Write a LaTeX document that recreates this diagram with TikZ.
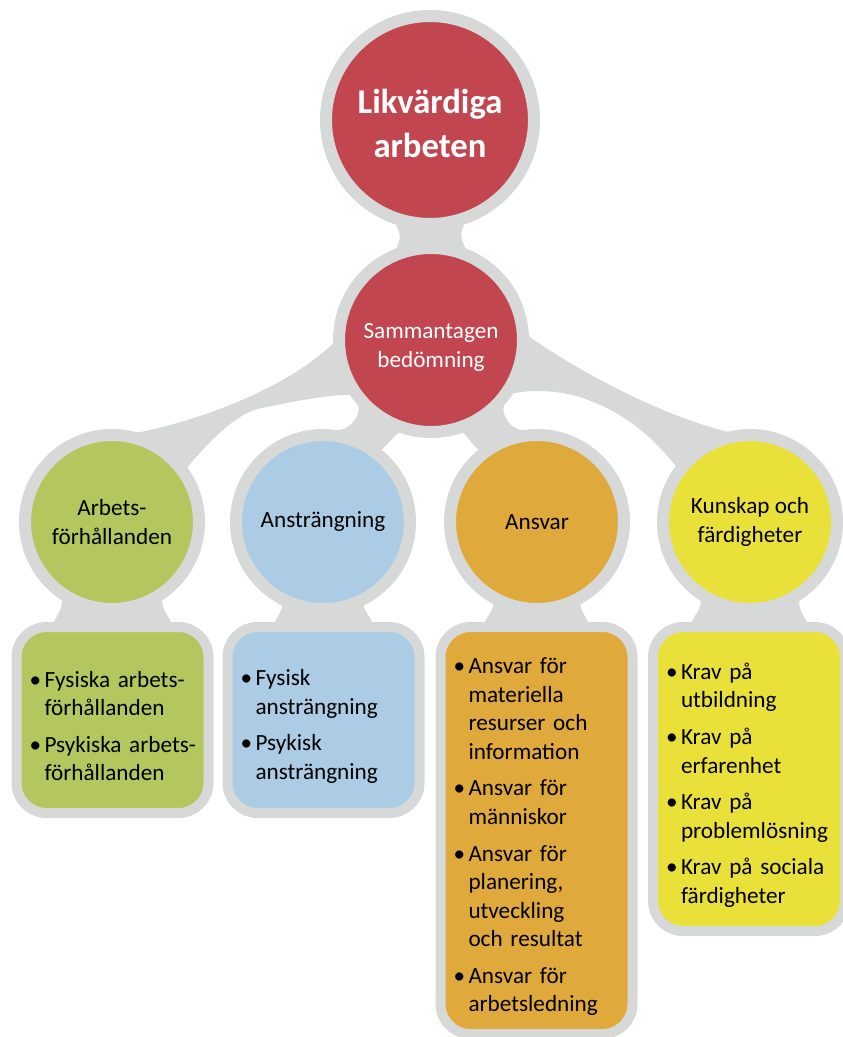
\documentclass[tikz,border=0pt]{standalone}
\usepackage{fontspec}
\setmainfont{Carlito}
\usepackage{enumitem}
\usetikzlibrary{calc,backgrounds}

\definecolor{halogray}{HTML}{D7D9D9}
\definecolor{likvred}{HTML}{C24650}
\definecolor{arbgreen}{HTML}{B4C65E}
\definecolor{anstblue}{HTML}{ABCCE4}
\definecolor{ansvorange}{HTML}{E0A93B}
\definecolor{kunyellow}{HTML}{E9E13A}

\setlist[itemize]{label=\makebox[11.25pt][l]{\textbullet}, leftmargin=21pt, labelwidth=11.25pt, labelsep=0pt,
  topsep=0pt, partopsep=0pt, parsep=0pt, itemsep=6pt, before=\raggedright}

\tikzset{
  halo/.style={fill=halogray},
  bubble/.style={circle, inner sep=0pt, draw=halogray, line width=9pt, align=center,
    font=\fontsize{17.4}{21.75}\selectfont},
  topbubble/.style={bubble, minimum size=156pt, fill=likvred},
  toptext/.style={text=white, align=center, font=\fontsize{26}{33}\selectfont\bfseries},
  sumbubble/.style={bubble, minimum size=138pt, fill=likvred},
  sumtext/.style={text=white, align=center, font=\fontsize{17.4}{21.75}\selectfont},
  rowbubble/.style={bubble, minimum size=130.5pt},
  listbox/.style={rectangle, rounded corners=22.5pt, draw=halogray, line width=7.5pt,
    inner xsep=0pt, inner ysep=0pt, text width=144pt, minimum height=#1,
    font=\fontsize{17.4}{21.4}\selectfont},
}

\begin{document}
\begin{tikzpicture}[x=0.75pt, y=-0.75pt]
\useasboundingbox (0,0) rectangle (842,1037);

% circles
\node[topbubble] (likv) at (430,120) {};
\node[toptext] (likvtxt) at ($(likv)+(0,3)$) {Likvärdiga\\arbeten};
\node[sumbubble] (samm) at (431,340) {};
\node[sumtext] (sammtxt) at ($(samm)+(0,7)$) {Sammantagen\\bedömning};

\node[rowbubble, fill=arbgreen] (arb) at (112,522) {Arbets-\\förhållanden};
\node[rowbubble, fill=anstblue] (anst) at (323,522) {Ansträngning};
\node[rowbubble, fill=ansvorange] (ansv) at (537,522) {Ansvar};
\node[rowbubble, fill=kunyellow] (kun) at (750,522) {Kunskap och\\färdigheter};

% boxes
\node[listbox=139.5pt, fill=arbgreen] (arbbox) at (112.5,720) {%
  \begin{itemize}
  \item Fysiska arbets-\newline förhållanden
  \item Psykiska arbets-\newline förhållanden
  \end{itemize}};
\node[listbox=139.5pt, fill=anstblue] (anstbox) at (323.5,720) {%
  \begin{itemize}
  \item Fysisk\newline ansträngning
  \item Psykisk\newline ansträngning
  \end{itemize}};
\node[listbox=305.25pt, fill=ansvorange] (ansvbox) at (536.5,830.5) {%
  \begin{itemize}
  \item Ansvar för\newline materiella\newline resurser och\newline information
  \item Ansvar för\newline människor
  \item Ansvar för\newline planering,\newline utveckling\newline och resultat
  \item Ansvar för\newline arbetsledning
  \end{itemize}};
\node[listbox=228pt, fill=kunyellow] (kunbox) at (749,779) {%
  \begin{itemize}
  \item Krav på\newline utbildning
  \item Krav på\newline erfarenhet
  \item Krav på\newline problemlösning
  \item Krav på sociala\newline färdigheter
  \end{itemize}};

\begin{scope}[on background layer]
% top neck
\fill[halo] ($(likv.south)+(-36,-10)$) .. controls ($(likv.south)+(-29,6)$) and ($(samm.north)+(-29,-6)$) .. ($(samm.north)+(-36,10)$)
  -- ($(samm.north)+(36,10)$) .. controls ($(samm.north)+(29,-6)$) and ($(likv.south)+(29,6)$) .. ($(likv.south)+(36,-10)$) -- cycle;

% bands to the four areas
\fill[halo] (samm.182) .. controls (290,385) and (210,418) .. (arb.74) -- (arb.36)
  .. controls (215,435) and (240,410) .. (267,407) .. controls (300,400) and (330,395) .. (samm.214) -- cycle;
\fill[halo] (samm.222) .. controls (361,416) and (350,430) .. (anst.81) -- (anst.51)
  .. controls (388,444) and (394,436) .. (samm.251) -- cycle;
\fill[halo] (samm.318) .. controls (501,416) and (512,430) .. (ansv.99) -- (ansv.129)
  .. controls (472,444) and (467,436) .. (samm.289) -- cycle;
\fill[halo] (samm.2) .. controls (580,372) and (660,415) .. (kun.104) -- (kun.143)
  .. controls (655,440) and (625,410) .. (573,395) .. controls (550,390) and (530,390) .. (samm.327) -- cycle;

% necks down to the boxes
\foreach \c/\b/\w in {arb/arbbox/50, anst/anstbox/40, ansv/ansvbox/43, kun/kunbox/49}
  \fill[halo] ($(\c.south)+(-\w,-19)$) .. controls ($(\c.south)+(-\w,-3)$) and ($(\b.north)+({-\w-3},-12)$) .. ($(\b.north)+({-\w-10},3)$)
    -- ($(\b.north)+({\w+10},3)$) .. controls ($(\b.north)+({\w+3},-12)$) and ($(\c.south)+(\w,-3)$) .. ($(\c.south)+(\w,-19)$) -- cycle;
\end{scope}
\end{tikzpicture}
\end{document}
